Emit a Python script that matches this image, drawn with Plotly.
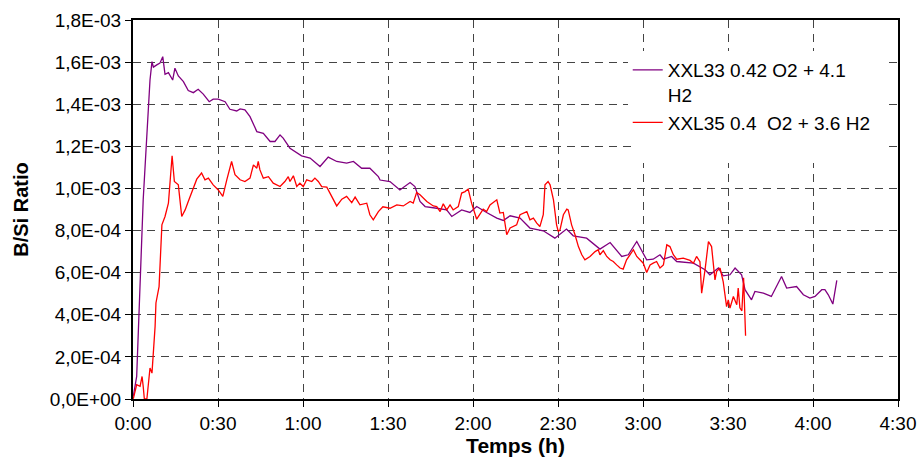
import plotly.graph_objects as go

# ---- data (time in minutes, B/Si ratio in units of 1e-4) ----
xxl33_t = [0.1, 1.3, 3.6, 4.9, 6.0, 6.7, 7.2, 8.4, 9.5, 10.5, 11.3, 12.5, 14.0, 14.8, 16.0, 17.8,
           19.5, 21.3, 23.0, 24.8, 26.9, 28.3, 30.1, 32.5, 34.2, 36.6, 37.8, 39.5, 41.3, 43.7,
           46.0, 48.4, 50.1, 51.9, 53.0, 55.4, 57.8, 59.5, 62.5, 66.0, 68.9, 71.9, 75.4, 77.8,
           80.7, 83.6, 86.6, 87.2, 90.7, 94.2, 97.8, 99.5, 101.3, 103.1, 107.2, 110.7, 112.5,
           116.0, 118.9, 121.3, 124.8, 128.4, 130.7, 133.1, 136.6, 140.1, 144.8, 148.9, 153.0,
           155.4, 160.1, 164.8, 168.4, 172.5, 174.8, 177.8, 181.3, 183.6, 186.0, 187.2, 190.1,
           191.9, 197.8, 201.9, 203.6, 206.6, 208.3, 210.7, 212.5, 214.8, 216.0, 218.3, 219.5,
           222.5, 225.3, 228.9, 230.7, 234.2, 236.6, 238.9, 240.7, 243.1, 244.2, 245.4, 247.0, 248.4]
xxl33_v = [0.12, 1.07, 9.46, 12.78, 15.15, 16.02, 15.76, 15.87, 15.95, 16.26, 15.42, 15.50, 15.15,
           15.71, 15.34, 15.07, 14.65, 14.55, 14.71, 14.48, 14.12, 14.24, 14.24, 14.12, 13.76,
           13.68, 13.78, 13.73, 13.41, 12.70, 12.62, 12.23, 12.23, 12.54, 12.39, 11.91, 11.70,
           11.55, 11.44, 11.04, 11.49, 11.28, 11.20, 11.28, 10.96, 10.96, 10.56, 10.40, 10.33,
           9.93, 10.28, 10.09, 9.38, 9.14, 9.06, 8.98, 8.67, 8.98, 8.86, 9.14, 8.86, 8.59, 8.48,
           8.70, 8.59, 8.12, 7.99, 7.64, 8.07, 7.75, 7.64, 7.12, 7.43, 6.77, 6.85, 7.48, 6.61,
           6.64, 6.85, 6.64, 6.77, 6.53, 6.45, 6.14, 5.90, 6.22, 5.85, 5.90, 6.22, 5.90, 5.19,
           4.71, 5.11, 5.03, 4.87, 5.82, 5.27, 5.34, 4.95, 4.79, 4.87, 5.19, 5.19, 4.95, 4.51, 5.63]

xxl35_t = [0.1, 0.6, 1.3, 2.5, 3.2, 3.6, 4.0, 4.9, 5.6, 6.0, 6.7, 7.1, 7.8, 8.1, 8.5, 9.2, 10.2,
           11.3, 12.5, 13.1, 13.8, 14.6, 16.0, 17.2, 18.4, 19.5, 20.7, 22.5, 24.2, 25.4, 26.6,
           28.3, 30.1, 31.7, 33.1, 34.8, 36.0, 37.8, 39.5, 41.3, 42.5, 43.7, 44.2, 44.8, 46.0,
           47.8, 49.5, 51.9, 53.6, 54.8, 55.4, 56.6, 57.8, 58.9, 60.1, 61.3, 63.1, 64.2, 65.4,
           66.6, 68.4, 70.1, 71.9, 73.7, 75.4, 77.2, 78.4, 80.1, 82.5, 83.6, 84.8, 86.6, 88.2,
           90.7, 93.1, 95.4, 97.8, 98.9, 100.1, 101.3, 103.7, 106.0, 107.2, 108.4, 109.5, 110.7,
           111.9, 113.0, 114.8, 116.0, 117.2, 118.3, 119.5, 121.3, 123.6, 124.8, 126.0, 128.4,
           129.5, 130.7, 131.9, 133.1, 135.4, 136.6, 139.0, 140.1, 141.3, 142.5, 143.6, 144.8,
           145.4, 146.5, 147.2, 148.4, 149.5, 150.1, 150.7, 151.9, 153.1, 153.6, 154.2, 154.8,
           156.0, 157.2, 158.4, 159.5, 161.3, 163.1, 164.2, 164.8, 166.0, 167.2, 168.4, 169.5,
           170.7, 171.9, 173.0, 174.2, 175.4, 176.6, 177.8, 178.9, 180.1, 181.3, 182.5, 183.6,
           184.8, 186.0, 187.2, 188.4, 189.5, 190.7, 191.9, 194.2, 196.6, 197.8, 198.9, 200.1,
           200.7, 201.9, 203.1, 204.2, 204.8, 205.4, 206.0, 207.2, 208.3, 209.5, 210.1, 210.7,
           211.9, 212.5, 213.1, 213.6, 214.2, 214.9, 215.5, 216.2]
xxl35_v = [0.01, 0.36, 0.68, 0.60, 1.07, 0.60, 0.01, 0.0, 1.07, 1.47, 1.23, 2.02, 3.45, 4.56, 4.87,
           5.34, 8.27, 8.67, 9.30, 10.17, 11.55, 10.33, 10.17, 8.67, 8.98, 9.38, 9.78, 10.44,
           10.73, 10.41, 10.49, 10.17, 9.93, 9.62, 10.41, 11.28, 10.65, 10.41, 10.33, 10.49,
           11.12, 10.96, 11.28, 10.88, 10.49, 10.56, 10.25, 10.09, 10.33, 10.56, 10.33, 10.60,
           10.09, 10.25, 10.09, 10.41, 10.33, 10.49, 10.33, 10.09, 10.06, 9.62, 9.17, 9.49, 9.62,
           9.33, 9.59, 9.22, 9.30, 8.75, 8.51, 8.90, 9.13, 9.06, 9.22, 9.17, 9.38, 9.30, 9.81,
           9.70, 9.38, 9.17, 9.14, 8.90, 9.27, 8.98, 9.22, 8.98, 9.14, 9.78, 9.85, 9.97, 9.30,
           8.54, 9.02, 8.90, 9.22, 9.46, 8.83, 8.86, 7.80, 8.12, 8.27, 8.75, 8.90, 8.51, 8.59,
           8.35, 8.19, 8.75, 10.17, 10.33, 10.17, 9.46, 8.27, 7.95, 8.03, 8.75, 9.02, 8.98, 8.59,
           8.27, 7.80, 7.24, 6.85, 6.61, 6.77, 7.00, 7.09, 6.85, 7.05, 6.77, 6.61, 6.53, 6.37,
           6.22, 6.17, 6.61, 6.85, 7.09, 6.77, 6.61, 6.45, 6.01, 6.37, 6.45, 6.53, 6.22, 6.37,
           7.32, 7.24, 6.85, 6.64, 6.69, 6.58, 6.45, 6.77, 6.52, 5.03, 6.14, 7.48, 7.24, 6.37,
           5.66, 6.06, 6.22, 5.58, 4.39, 4.71, 4.32, 4.87, 4.71, 4.48, 5.27, 4.33, 4.19, 5.76, 3.00]

SCALE = 1e-4

x_tickvals = [0, 30, 60, 90, 120, 150, 180, 210, 240, 270]
x_ticktext = ["0:00", "0:30", "1:00", "1:30", "2:00", "2:30", "3:00", "3:30", "4:00", "4:30"]
y_tickvals = [0, 2e-4, 4e-4, 6e-4, 8e-4, 1e-3, 1.2e-3, 1.4e-3, 1.6e-3, 1.8e-3]
y_ticktext = ["0,0E+00", "2,0E-04", "4,0E-04", "6,0E-04", "8,0E-04",
              "1,0E-03", "1,2E-03", "1,4E-03", "1,6E-03", "1,8E-03"]

name33 = "XXL33 0.42 O2 + 4.1<br>H2"
name35 = "XXL35 0.4 \u00a0O2 + 3.6 H2"

FONT = "Arial, 'Liberation Sans', sans-serif"

fig = go.Figure()
fig.add_trace(go.Scatter(x=xxl33_t, y=[v * SCALE for v in xxl33_v], mode="lines",
                         name=name33, line=dict(color="#800080", width=1.3)))
fig.add_trace(go.Scatter(x=xxl35_t, y=[v * SCALE for v in xxl35_v], mode="lines",
                         name=name35, line=dict(color="#FF0000", width=1.3)))

# white legend area hiding the gridlines behind the legend (as in the original)
fig.add_shape(type="rect", xref="paper", yref="paper", x0=0.652, x1=0.986, y0=0.623, y1=0.913,
              fillcolor="white", line=dict(width=0), layer="above")

fig.update_layout(
    width=918, height=460,
    margin=dict(l=133, r=20, t=20, b=61, autoexpand=False),
    paper_bgcolor="white", plot_bgcolor="white",
    font=dict(family=FONT, size=19, color="black"),
    showlegend=True,
    legend=dict(x=0.6467, y=0.918, xanchor="left", yanchor="top",
                bgcolor="white", borderwidth=0, valign="top",
                font=dict(family=FONT, size=19, color="black")),
    xaxis=dict(range=[0, 270], tickvals=x_tickvals, ticktext=x_ticktext,
               automargin=False,
               showgrid=True, gridcolor="#444444", griddash="8px,6px", gridwidth=1,
               showline=True, linecolor="black", linewidth=1.5, mirror=True,
               ticks="outside", ticklen=6, tickcolor="black",
               zeroline=False,
               title=dict(text="<b>Temps (h)</b>", font=dict(family=FONT, size=21), standoff=5)),
    yaxis=dict(range=[0, 1.8e-3], tickvals=y_tickvals, ticktext=y_ticktext,
               automargin=False,
               showgrid=True, gridcolor="#444444", griddash="8px,6px", gridwidth=1,
               showline=True, linecolor="black", linewidth=2, mirror=True,
               ticks="outside", ticklen=6, tickcolor="black",
               zeroline=False,
               title=dict(text="<b>B/Si Ratio</b>", font=dict(family=FONT, size=20), standoff=16)),
)

fig.write_html("out.html", config={"displayModeBar": False},
               post_script="document.body.style.margin='0';document.body.style.overflow='hidden';")
